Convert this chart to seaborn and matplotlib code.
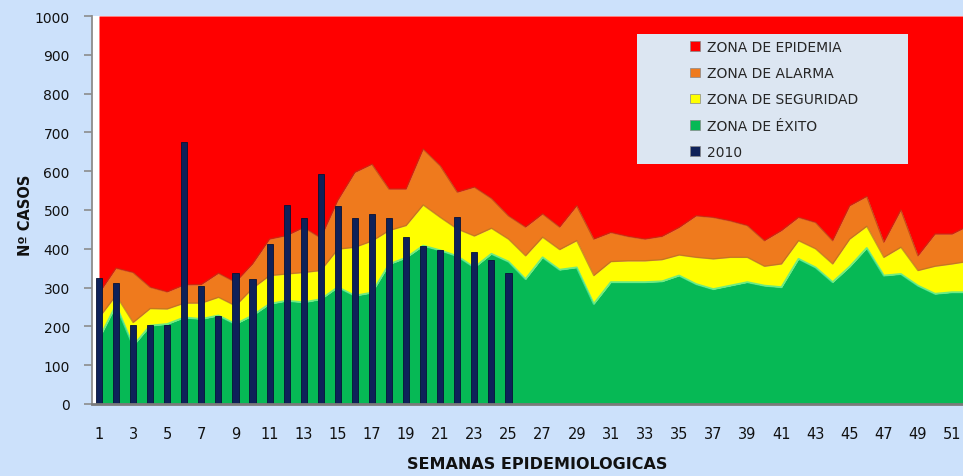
import matplotlib
matplotlib.use("Agg")
import matplotlib.pyplot as plt
from matplotlib.patches import Patch, Rectangle
import seaborn as sns
import pandas as pd
from matplotlib import font_manager

# ---------------- data ----------------
weeks = list(range(1, 53))
exito = [168, 255, 150, 202, 206, 223, 219, 228, 206, 228, 258, 266, 262, 270, 301, 279,
         287, 360, 377, 408, 396, 381, 352, 387, 367, 322, 378, 346, 352, 258, 314, 314,
         314, 316, 331, 309, 296, 305, 314, 305, 301, 374, 352, 314, 354, 402, 331, 335,
         305, 284, 288, 288]
seguridad = [222, 280, 210, 246, 245, 260, 260, 275, 253, 298, 331, 335, 339, 344, 399, 404,
             420, 447, 460, 513, 481, 451, 433, 453, 425, 382, 430, 398, 421, 331, 367, 369,
             369, 372, 384, 378, 374, 378, 378, 355, 361, 421, 400, 361, 425, 458, 378, 404,
             344, 355, 361, 368]
alarma = [285, 350, 339, 301, 289, 307, 308, 337, 314, 361, 425, 434, 455, 428, 525, 597,
          618, 554, 554, 657, 614, 546, 559, 530, 485, 456, 490, 456, 511, 425, 442, 432,
          425, 432, 455, 485, 481, 472, 460, 421, 447, 481, 468, 421, 511, 535, 417, 500,
          382, 438, 438, 460]
epidemia_max = 1000
weeks_2010 = list(range(1, 26))
casos_2010 = [325, 312, 203, 203, 203, 675, 304, 227, 338, 322, 412, 513, 480, 593, 510,
              479, 490, 479, 430, 408, 397, 482, 392, 371, 337]
xtick_labels = [str(w) for w in range(1, 52, 2)]
legend_labels = ["ZONA DE EPIDEMIA", "ZONA DE ALARMA", "ZONA DE SEGURIDAD",
                 "ZONA DE ÉXITO", "2010"]

# ---------------- style ----------------
RED = "#ff0000"
ORANGE = "#ef7a1d"
YELLOW = "#ffff00"
GREEN = "#06b955"
NAVY = "#0e2159"
BG = "#cce1fb"
LEGBG = "#dce6f2"

sns.set_theme(style="white")
plt.rcParams["font.family"] = ["DejaVu Sans"]

names = {f.name for f in font_manager.fontManager.ttflist}
narrow = "Liberation Sans Narrow" if "Liberation Sans Narrow" in names else "DejaVu Sans"

fig = plt.figure(figsize=(9.63, 4.77), dpi=100, facecolor=BG)
ax = fig.add_axes([92 / 963, 72 / 477, 871 / 963, 388 / 477])
ax.set_facecolor("white")

ax.fill_between(weeks, 0, exito, color=GREEN, lw=0, zorder=1)
ax.fill_between(weeks, exito, seguridad, color=YELLOW, lw=0, zorder=1)
ax.fill_between(weeks, seguridad, alarma, color=ORANGE, lw=0, zorder=1)
ax.fill_between(weeks, alarma, epidemia_max, color=RED, lw=0, zorder=1)
# bevel-like edges
ax.plot(weeks, alarma, color="#b83a10", lw=1.0, alpha=0.7, zorder=2)
ax.plot(weeks, seguridad, color="#b5791a", lw=1.0, alpha=0.7, zorder=2)
ax.plot(weeks, exito, color="#4fe89a", lw=1.4, alpha=0.8, zorder=2)

df = pd.DataFrame({"semana": weeks_2010, "casos": casos_2010})
sns.barplot(data=df, x="semana", y="casos", native_scale=True, width=0.36,
            color=NAVY, saturation=1, edgecolor="#071236", linewidth=0.6,
            ax=ax, zorder=3)

ax.set_xlim(0.59, 51.64)
ax.set_ylim(0, 1000)
ax.set_yticks(range(0, 1001, 100))
ax.set_xticks(list(range(1, 52, 2)))
ax.set_xticklabels(xtick_labels, fontsize=10.5, family=narrow)
ax.tick_params(axis="y", left=True, length=6, width=1.2, color="#8c8c8c",
               pad=10, labelsize=10, labelcolor="#111111")
ax.tick_params(axis="x", bottom=False, pad=10, labelcolor="#111111")

for s in ("top", "right"):
    ax.spines[s].set_visible(False)
ax.spines["left"].set_color("#8c8c8c")
ax.spines["left"].set_linewidth(1.3)
ax.spines["bottom"].set_color("#7a7a7a")
ax.spines["bottom"].set_linewidth(2.0)
ax.spines["bottom"].set_zorder(4)

ax.set_xlabel("SEMANAS EPIDEMIOLOGICAS", fontsize=11.5, fontweight="bold",
              family=narrow, color="#111111")
ax.xaxis.set_label_coords(0.511, -0.135)
ax.set_ylabel("Nº CASOS", fontsize=10.5, fontweight="bold", color="#111111")
ax.yaxis.set_label_coords(-0.068, 0.49)

# legend box
x0 = (637 - 92) / 871
x1 = (908 - 92) / 871
y1 = (405 - 35) / 388
y0 = (405 - 165) / 388
ax.add_patch(Rectangle((x0, y0), x1 - x0, y1 - y0, transform=ax.transAxes,
                       facecolor=LEGBG, edgecolor="none", zorder=5))
handles = [Patch(facecolor=c, edgecolor="#888888", linewidth=0.5)
           for c in (RED, ORANGE, YELLOW, GREEN, NAVY)]
leg = ax.legend(handles, legend_labels, loc="upper left",
                bbox_to_anchor=((690 - 92) / 871, (405 - 41) / 388),
                frameon=False, fontsize=10, handlelength=0.7, handleheight=0.7,
                handletextpad=0.5, labelspacing=0.88, borderpad=0, borderaxespad=0)
leg.set_zorder(6)

fig.savefig("out.png", dpi=100, facecolor=BG)
